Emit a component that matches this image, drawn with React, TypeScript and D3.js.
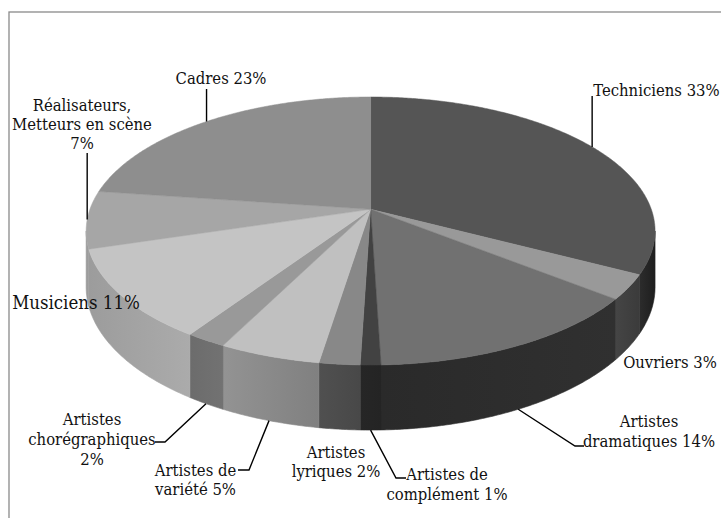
import React from "react";
import * as d3 from "d3";

// ---- data ----
const categories = [
  "Techniciens",
  "Ouvriers",
  "Artistes dramatiques",
  "Artistes de complément",
  "Artistes lyriques",
  "Artistes de variété",
  "Artistes chorégraphiques",
  "Musiciens",
  "Réalisateurs, Metteurs en scène",
  "Cadres",
];
const values = [33, 3, 14, 1, 2, 5, 2, 11, 7, 23];

// ---- styles ----
const topColors = ["#555555", "#999999", "#717171", "#424242", "#888888", "#c0c0c0", "#999999", "#c4c4c4", "#a6a6a6", "#8e8e8e"];
const sideColors: [string, string][] = [
  ["#2c2c2c", "#1e1e1e"],
  ["#454545", "#3b3b3b"],
  ["#2a2a2a", "#303030"],
  ["#262626", "#242424"],
  ["#505050", "#484848"],
  ["#939393", "#808080"],
  ["#6c6c6c", "#727272"],
  ["#9c9c9c", "#ababab"],
  ["#9a9a9a", "#9e9e9e"],
  ["#8a8a8a", "#8a8a8a"],
];

// ---- label layout ----
type Label = {
  lines: string[];
  x: number;
  ys: number[];
  size: number;
  anchorOn: "top" | "bottom" | null;
  path: [number | null, number][];
};
const labels: Label[] = [
  { lines: ["Techniciens 33%"], x: 656.5, ys: [96], size: 16.5, anchorOn: "top", path: [[null, 96]] },
  { lines: ["Ouvriers 3%"], x: 670, ys: [368], size: 16.5, anchorOn: null, path: [] },
  { lines: ["Artistes", "dramatiques 14%"], x: 649, ys: [427, 447], size: 16.5, anchorOn: "bottom", path: [[575, 446], [584, 446]] },
  { lines: ["Artistes de", "complément 1%"], x: 447, ys: [480, 500], size: 16.5, anchorOn: "bottom", path: [[396, 478], [406, 478]] },
  { lines: ["Artistes", "lyriques 2%"], x: 336, ys: [458, 477], size: 16.5, anchorOn: null, path: [] },
  { lines: ["Artistes de", "variété 5%"], x: 195.5, ys: [476, 495], size: 16.5, anchorOn: "bottom", path: [[249, 470], [238, 470]] },
  { lines: ["Artistes", "chorégraphiques", "2%"], x: 92, ys: [425, 445, 465], size: 16.5, anchorOn: "bottom", path: [[165, 442], [155, 442]] },
  { lines: ["Musiciens 11%"], x: 76, ys: [309], size: 18.5, anchorOn: null, path: [] },
  { lines: ["Réalisateurs,", "Metteurs en scène", "7%"], x: 82, ys: [111, 130, 149], size: 16.5, anchorOn: "top", path: [[null, 153]] },
  { lines: ["Cadres 23%"], x: 221, ys: [84], size: 16.5, anchorOn: "top", path: [[null, 89]] },
];

// ---- projection of the 3D disc ----
const CX = 370.6;
const CY = 209.3;
const A = 280.7;
const B = 130.5;
const K = 0.162;
const D = 54.5;

function proj(theta: number, bottom = false): [number, number] {
  const u = Math.sin(theta);
  const v = -Math.cos(theta);
  const w = 1 - K * v;
  return [CX + (A * u) / w, CY + (B * v) / w + (bottom ? D / w : 0)];
}

function arcPts(a0: number, a1: number, bottom = false): [number, number][] {
  const n = Math.max(2, Math.ceil(((a1 - a0) * 180) / Math.PI / 0.5));
  const pts: [number, number][] = [];
  for (let i = 0; i <= n; i++) pts.push(proj(a0 + ((a1 - a0) * i) / n, bottom));
  return pts;
}

const T1 = Math.acos(-K);
const T2 = 2 * Math.PI - T1;

export default function App() {
  const data = categories.map((c, i) => ({ name: c, value: values[i], i }));
  const arcs = d3
    .pie<any>()
    .sort(null)
    .value((d: any) => d.value)
    .startAngle(0)
    .endAngle(2 * Math.PI)(data);

  const line = d3.line();

  const sides = arcs
    .map((a) => {
      const s = Math.max(a.startAngle, T1);
      const e = Math.min(a.endAngle, T2);
      if (e <= s) return null;
      const pts = [...arcPts(s, e), ...arcPts(s, e, true).reverse()];
      return { i: a.data.i, d: line(pts) + "Z" };
    })
    .filter(Boolean) as { i: number; d: string }[];

  const tops = arcs.map((a) => {
    const pts: [number, number][] = [[CX, CY], ...arcPts(a.startAngle, a.endAngle)];
    return { i: a.data.i, d: line(pts) + "Z" };
  });

  const font = "'DejaVu Serif Condensed', 'DejaVu Serif', serif";

  return (
    <div style={{ position: "absolute", left: 0, top: 0 }}>
      <svg width={721} height={518} style={{ display: "block" }}>
        <rect x={0} y={0} width={721} height={518} fill="#ffffff" />
        <rect x={9} y={12} width={730} height={530} fill="none" stroke="#8a8a8a" strokeWidth={1.3} />
        <defs>
          {sideColors.map((c, i) => (
            <linearGradient key={i} id={`side${i}`} x1="0" x2="1" y1="0" y2="0">
              <stop offset="0" stopColor={c[0]} />
              <stop offset="1" stopColor={c[1]} />
            </linearGradient>
          ))}
        </defs>
        {sides.map((s) => (
          <path key={"s" + s.i} d={s.d} fill={`url(#side${s.i})`} stroke={`url(#side${s.i})`} strokeWidth={0.6} />
        ))}
        {tops.map((t) => (
          <path key={"t" + t.i} d={t.d} fill={topColors[t.i]} stroke={topColors[t.i]} strokeWidth={0.5} strokeLinejoin="round" />
        ))}
        {arcs.map((a) => {
          const lb = labels[a.data.i];
          if (!lb.anchorOn) return null;
          const mid = (a.startAngle + a.endAngle) / 2;
          const p0 = proj(mid, lb.anchorOn === "bottom");
          const pts: [number, number][] = [p0, ...lb.path.map((p) => [p[0] === null ? p0[0] : p[0], p[1]] as [number, number])];
          return <path key={"l" + a.data.i} d={line(pts) || ""} fill="none" stroke="#000" strokeWidth={1.4} />;
        })}
        {labels.map((lb, i) => (
          <text key={"x" + i} fontFamily={font} fontSize={lb.size} fill="#111" textAnchor="middle" style={{ fontStretch: "condensed" }}>
            {lb.lines.map((ln, j) => (
              <tspan key={j} x={lb.x} y={lb.ys[j]}>
                {ln}
              </tspan>
            ))}
          </text>
        ))}
      </svg>
    </div>
  );
}
